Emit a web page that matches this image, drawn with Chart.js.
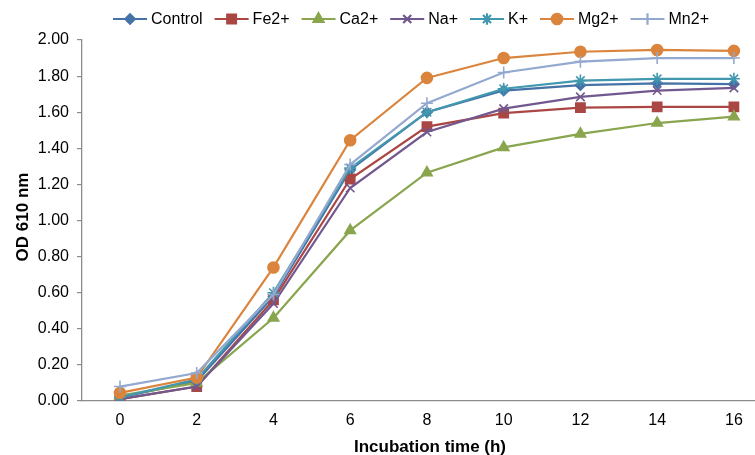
<!DOCTYPE html>
<html><head><meta charset="utf-8">
<script src="https://cdn.jsdelivr.net/npm/chart.js@4"></script>
<style>html,body{margin:0;padding:0;background:#fff;overflow:hidden}canvas{display:block}</style>
</head><body><canvas id="c" width="755" height="455" style="width:755px;height:455px"></canvas>
<script>
const hours = [0, 2, 4, 6, 8, 10, 12, 14, 16];
const control = [0.02, 0.11, 0.58, 1.28, 1.60, 1.72, 1.75, 1.76, 1.755];
const fe2 = [0.01, 0.08, 0.56, 1.23, 1.52, 1.595, 1.625, 1.63, 1.63];
const ca2 = [0.03, 0.10, 0.46, 0.945, 1.265, 1.405, 1.48, 1.54, 1.575];
const na = [0.01, 0.08, 0.54, 1.18, 1.49, 1.62, 1.685, 1.72, 1.735];
const k = [0.02, 0.12, 0.60, 1.29, 1.60, 1.73, 1.775, 1.785, 1.785];
const mg2 = [0.045, 0.13, 0.74, 1.445, 1.79, 1.90, 1.935, 1.945, 1.94];
const mn2 = [0.08, 0.155, 0.59, 1.31, 1.65, 1.82, 1.88, 1.90, 1.90];
const seriesNames = ["Control", "Fe2+", "Ca2+", "Na+", "K+", "Mg2+", "Mn2+"];
const yTickValues = [0, 0.2, 0.4, 0.6, 0.8, 1.0, 1.2, 1.4, 1.6, 1.8, 2.0];
const xTitle = "Incubation time (h)";
const yTitle = "OD 610 nm";

const styles = [
  {c:"#4572A7", p:"rectRot", r:5},
  {c:"#AA4643", p:"rect", r:6.5},
  {c:"#89A54E", p:"triangle", r:6},
  {c:"#71588F", p:"crossRot", r:6},
  {c:"#4198AF", p:"star", r:6},
  {c:"#DB843D", p:"circle", r:5.5},
  {c:"#93A9CF", p:"cross", r:6}
];
const values = [control, fe2, ca2, na, k, mg2, mn2];
const FONT = "'Liberation Sans', Arial, Helvetica, sans-serif";

const datasets = seriesNames.map((n,i)=>({
  label:n,
  data: hours.map((h,j)=>({x:h, y:values[i][j]})),
  borderColor:styles[i].c, backgroundColor:styles[i].c,
  pointStyle:styles[i].p, pointRadius:styles[i].r,
  pointBorderColor:styles[i].c, pointBackgroundColor:styles[i].c,
  pointBorderWidth:1.6, borderWidth:2.2, tension:0, fill:false,
  order: -i
}));

const decorPlugin = {
  id:'decor',
  afterDraw(chart){
    const ctx = chart.ctx;
    ctx.save();
    ctx.font = "16px " + FONT;
    ctx.textBaseline = 'middle';
    const iconW = 34, gapText = 4, gapItem = 12;
    let total = 0;
    const widths = seriesNames.map(n=>ctx.measureText(n).width);
    widths.forEach((w,i)=>{ total += iconW + gapText + w + (i<widths.length-1?gapItem:0); });
    let x = 411 - total/2;
    const y = 19;
    seriesNames.forEach((n,i)=>{
      const s = styles[i];
      ctx.strokeStyle = s.c; ctx.lineWidth = 2.2;
      ctx.beginPath(); ctx.moveTo(x, y); ctx.lineTo(x+iconW, y); ctx.stroke();
      ctx.fillStyle = s.c;
      Chart.helpers.drawPoint(ctx, {pointStyle:s.p, radius:s.r*0.95, borderWidth:1.6, rotation:0}, x+iconW/2, y);
      ctx.fillStyle = '#000';
      ctx.textAlign = 'left';
      ctx.fillText(n, x+iconW+gapText, y+0.5);
      x += iconW + gapText + widths[i] + gapItem;
    });
    ctx.font = "bold 17px " + FONT;
    ctx.fillStyle = '#000';
    ctx.textAlign = 'center';
    ctx.textBaseline = 'middle';
    ctx.fillText(xTitle, 430, 447);
    ctx.translate(23, 217);
    ctx.rotate(-Math.PI/2);
    ctx.fillText(yTitle, 0, 0);
    ctx.restore();
  }
};

Chart.defaults.font.family = FONT;
Chart.defaults.color = "#000";

new Chart(document.getElementById('c'), {
  type:'line',
  data:{datasets},
  plugins:[decorPlugin],
  options:{
    responsive:false, animation:false, devicePixelRatio:1,
    layout:{padding:{left:0,right:0,top:40,bottom:0}, autoPadding:false},
    plugins:{ legend:{display:false}, tooltip:{enabled:false} },
    scales:{
      x:{
        type:'linear', min:-0.99, max:16.55,
        afterBuildTicks(scale){ scale.ticks = hours.map(v=>({value:v})); },
        afterFit(scale){ scale.height = 54; scale.paddingRight = 0; scale.paddingLeft = 0; },
        grid:{display:false, drawTicks:false},
        border:{display:true, color:'#8c8c8c', width:1.3},
        ticks:{font:{size:16}, color:'#000', padding:10, maxRotation:0, autoSkip:false, callback:v=>String(v)}
      },
      y:{
        min:0, max:2,
        afterBuildTicks(scale){ scale.ticks = yTickValues.map(v=>({value:v})); },
        afterFit(scale){ scale.width = 82; scale.paddingTop = 0; scale.paddingBottom = 0; },
        grid:{display:true, drawOnChartArea:false, drawTicks:true, tickLength:5, color:'#8c8c8c', lineWidth:1.2},
        border:{display:true, color:'#8c8c8c', width:1.3},
        ticks:{font:{size:16}, color:'#000', padding:8, callback:v=>Number(v).toFixed(2)}
      }
    }
  }
});
</script></body></html>
